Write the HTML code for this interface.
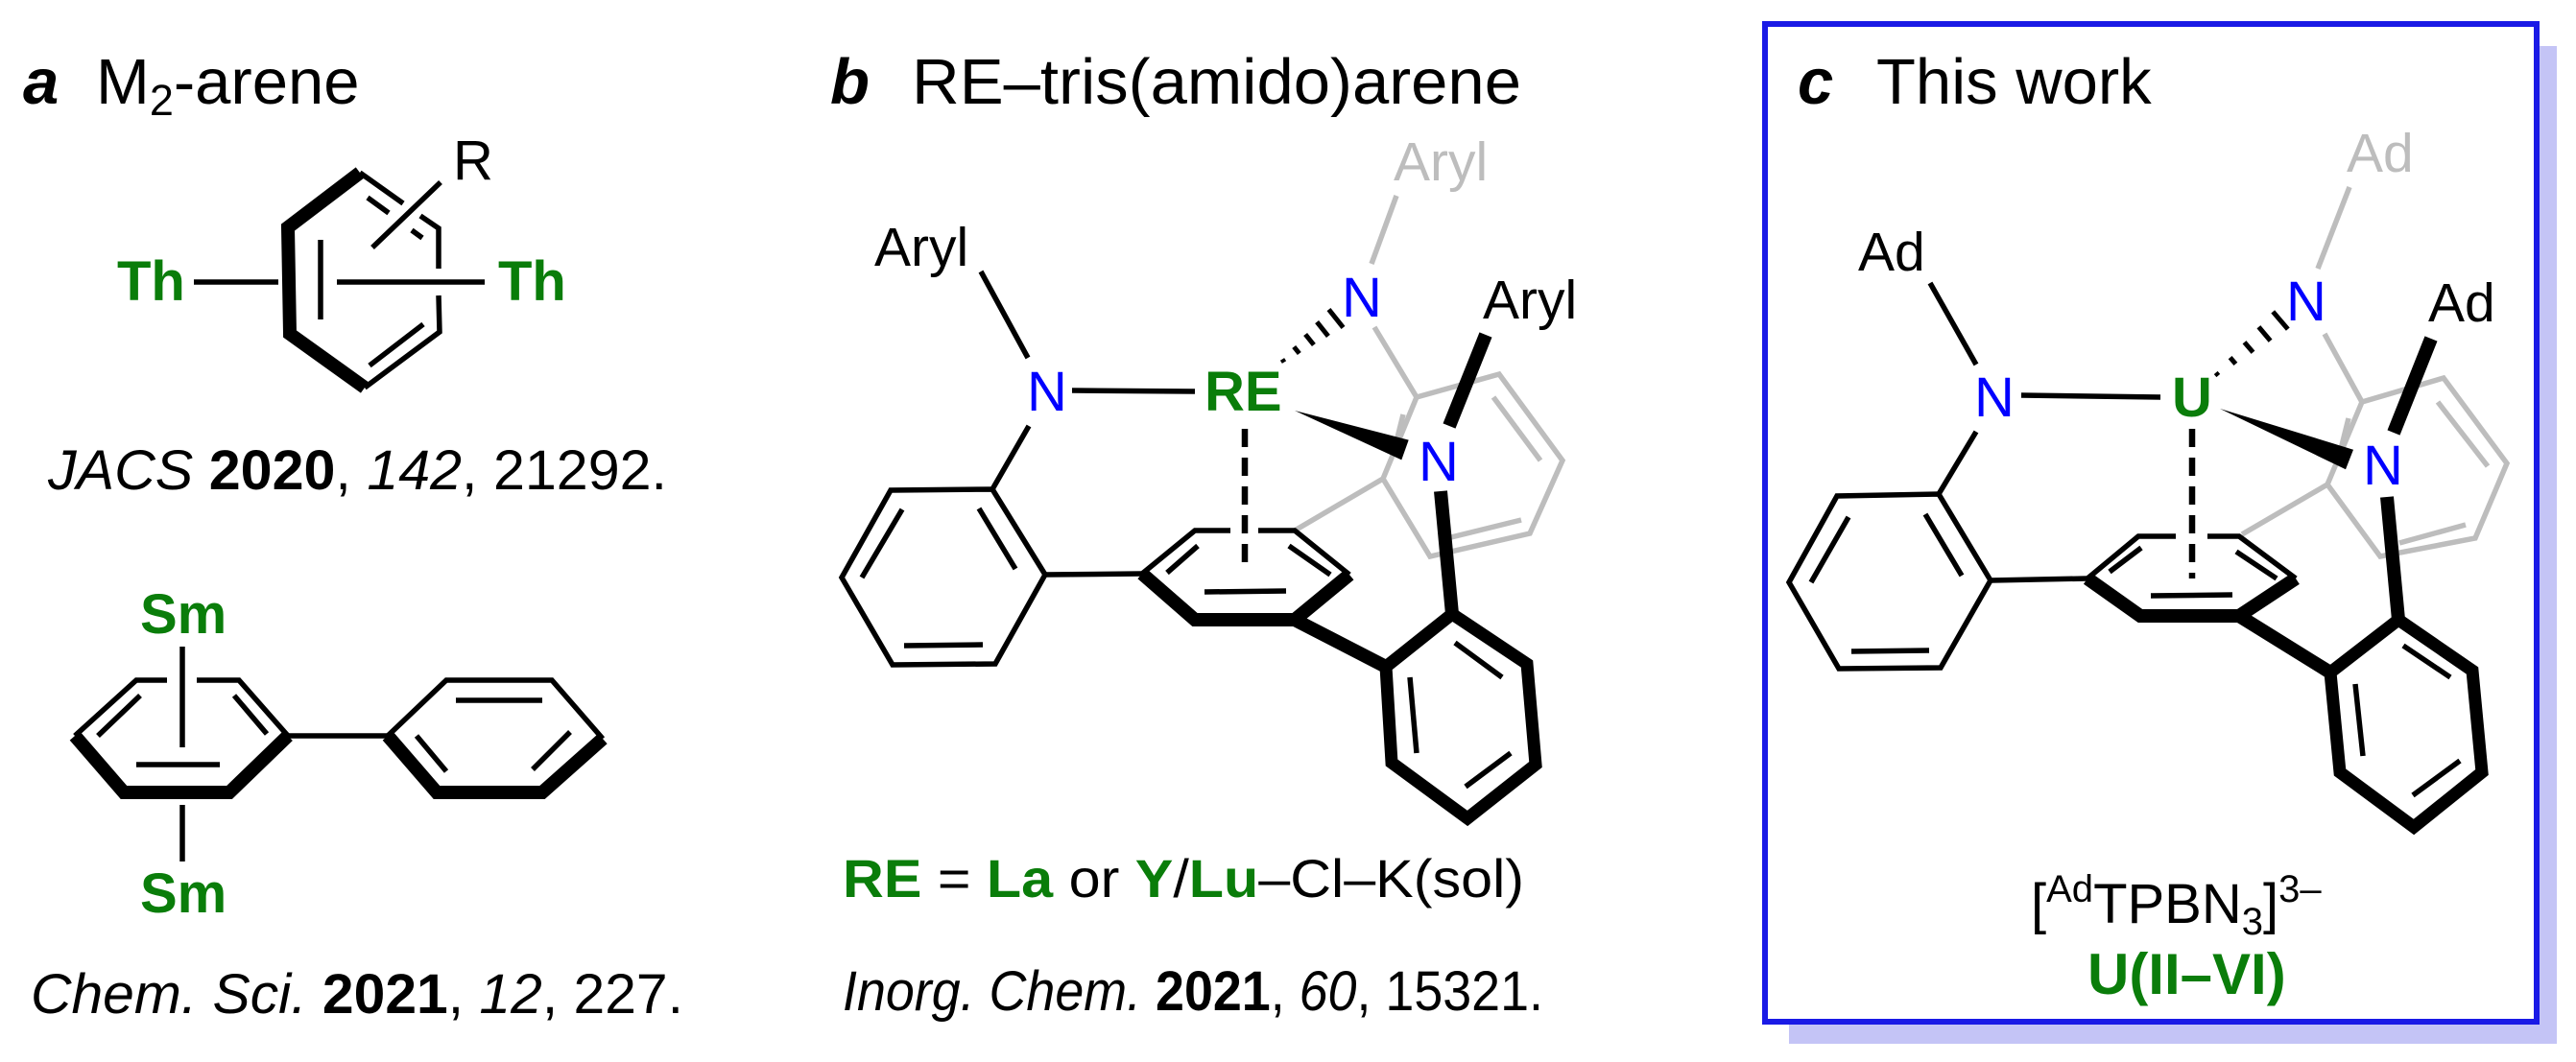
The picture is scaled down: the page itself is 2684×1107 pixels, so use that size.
<!DOCTYPE html>
<html><head><meta charset="utf-8"><style>
html,body{margin:0;padding:0;background:#fff;}
svg{display:block;}
text{font-family:"Liberation Sans",Arial,sans-serif;}
.k{stroke:#000;fill:none;stroke-width:5.5;stroke-linecap:butt;}
.bd{stroke:#000;fill:none;stroke-width:14;stroke-linejoin:miter;stroke-linecap:butt;}
.g{stroke:#bdbdbd;fill:none;stroke-width:5.5;}
.gr{fill:#0a7d0a;font-weight:bold;}
.nb{fill:#0000ff;stroke:#fff;stroke-width:8;paint-order:stroke;}
</style></head><body>
<svg width="2684" height="1107" viewBox="0 0 2684 1107" xmlns="http://www.w3.org/2000/svg">
<!-- ============ Panel a ============ -->
<text x="24" y="108" font-size="67"><tspan font-weight="bold" font-style="italic">a</tspan><tspan x="100">M</tspan><tspan font-size="45" dy="12">2</tspan><tspan dy="-12">-arene</tspan></text>
<!-- Th arene -->
<polyline class="bd" points="375,180 300,237 302,348 380,404"/>
<polyline class="k" points="380,404 458,346 457,308"/>
<polyline class="k" points="457,280 457,238 438,225"/>
<line class="k" x1="420" y1="212" x2="375" y2="180"/>
<line class="k" x1="334" y1="250" x2="334" y2="333"/>
<line class="k" x1="385" y1="381" x2="441" y2="338"/>
<line class="k" x1="383" y1="206" x2="405" y2="222"/>
<line class="k" x1="429" y1="240" x2="440" y2="248"/>
<line class="k" x1="388" y1="258" x2="459" y2="190"/>
<text x="472" y="187" font-size="58">R</text>
<line class="k" x1="202" y1="294" x2="290" y2="294"/>
<line class="k" x1="351" y1="294" x2="505" y2="294"/>
<text x="122" y="313" font-size="58" class="gr">Th</text>
<text x="519" y="313" font-size="58" class="gr">Th</text>
<text x="50" y="510" font-size="58" textLength="645" lengthAdjust="spacingAndGlyphs"><tspan font-style="italic">JACS</tspan> <tspan font-weight="bold">2020</tspan>, <tspan font-style="italic">142</tspan>, 21292.</text>
<!-- Sm biphenyl -->
<text x="146" y="660" font-size="58" class="gr">Sm</text>
<line class="k" x1="190" y1="674" x2="190" y2="779"/>
<polyline class="k" points="174,709 142,709 78,767"/>
<polyline class="k" points="205,709 249,709 300,767"/>
<polyline class="bd" points="78,767 129,826 239,826 300,767"/>
<line class="k" x1="102" y1="767" x2="146" y2="725"/>
<line class="k" x1="244" y1="725" x2="278" y2="765"/>
<line class="k" x1="142" y1="797" x2="229" y2="797"/>
<line class="k" x1="300" y1="767" x2="404" y2="767"/>
<polyline class="k" points="404,767 465,709 575,709 628,770"/>
<polyline class="bd" points="404,767 455,826 565,826 628,770"/>
<line class="k" x1="475" y1="730" x2="565" y2="730"/>
<line class="k" x1="434" y1="767" x2="465" y2="804"/>
<line class="k" x1="555" y1="802" x2="594" y2="763"/>
<line class="k" x1="190" y1="839" x2="190" y2="898"/>
<text x="146" y="951" font-size="58" class="gr">Sm</text>
<text x="32" y="1056" font-size="58" textLength="680" lengthAdjust="spacingAndGlyphs"><tspan font-style="italic">Chem. Sci.</tspan> <tspan font-weight="bold">2021</tspan>, <tspan font-style="italic">12</tspan>, 227.</text>

<!-- ============ Panel b ============ -->
<text x="865" y="108" font-size="67" font-weight="bold" font-style="italic">b</text>
<text x="950" y="108" font-size="67" textLength="635" lengthAdjust="spacingAndGlyphs">RE–tris(amido)arene</text>
<!-- gray back arm -->
<line class="g" x1="1455" y1="204" x2="1429" y2="275"/>
<line class="g" x1="1432" y1="341" x2="1476" y2="414"/>
<polyline class="g" points="1476,414 1562,390 1628,480 1594,556 1490,580 1441,499 1476,414"/>
<line class="g" x1="1556" y1="414" x2="1605" y2="480"/>
<line class="g" x1="1585" y1="542" x2="1512" y2="560"/>
<line class="g" x1="1462" y1="432" x2="1453" y2="468"/>
<line class="g" x1="1441" y1="499" x2="1349" y2="553"/>
<text x="1452" y="188" font-size="57" fill="#bdbdbd">Aryl</text>
<!-- left arm -->
<text x="911" y="277" font-size="57">Aryl</text>
<line class="k" x1="1022" y1="283" x2="1071" y2="373"/>
<line class="k" x1="1117" y1="407" x2="1245" y2="408"/>
<line class="k" x1="1072" y1="444" x2="1034" y2="510"/>
<polygon points="1034,510 1089,599 1037,692 930,693 877,602 928,511" fill="none" stroke="#000" stroke-width="5.5"/>
<line class="k" x1="1020" y1="530" x2="1058" y2="593"/>
<line class="k" x1="942" y1="673" x2="1024" y2="672"/>
<line class="k" x1="898" y1="602" x2="940" y2="531"/>
<line class="k" x1="1089" y1="599" x2="1190" y2="598"/>
<!-- central ring -->
<polyline class="k" points="1190,598 1245,553 1282,553"/>
<polyline class="k" points="1311,553 1349,553 1406,599"/>
<polyline class="bd" points="1190,598 1245,646 1349,646 1406,599"/>
<line class="k" x1="1216" y1="597" x2="1248" y2="569"/>
<line class="k" x1="1343" y1="569" x2="1386" y2="599"/>
<line class="k" x1="1255" y1="617" x2="1340" y2="616"/>
<line x1="1297" y1="447" x2="1297" y2="597" stroke="#000" stroke-width="6.5" stroke-dasharray="19,11"/>
<!-- hashed bond -->
<g stroke="#000" stroke-width="5">
<line x1="1336" y1="374.4" x2="1338" y2="377.6"/>
<line x1="1348.2" y1="361.5" x2="1353.8" y2="368.5"/>
<line x1="1360.1" y1="348.5" x2="1368.9" y2="359.5"/>
<line x1="1372.1" y1="335.6" x2="1383.9" y2="350.4"/>
<line x1="1384.5" y1="322.6" x2="1399.5" y2="341.4"/>
</g>
<polygon points="1349,428 1467.7,458.6 1460.3,479.4" fill="#000"/>
<line class="bd" x1="1548" y1="349" x2="1510" y2="444" stroke-width="13"/>
<line class="bd" x1="1501" y1="512" x2="1513" y2="640" stroke-width="13"/>
<line class="bd" x1="1349" y1="646" x2="1444" y2="695" stroke-width="13"/>
<polygon points="1513,640 1591,692 1600,797 1529,853 1450,795 1444,695" fill="none" stroke="#000" stroke-width="13" stroke-linejoin="miter"/>
<line class="k" x1="1516" y1="670" x2="1565" y2="706"/>
<line class="k" x1="1469" y1="706" x2="1476" y2="785"/>
<line class="k" x1="1527" y1="820" x2="1574" y2="785"/>
<text x="1398" y="330" font-size="58" class="nb">N</text>
<text x="1070" y="428" font-size="58" class="nb">N</text>
<text x="1478" y="501" font-size="58" class="nb">N</text>
<text x="1255" y="428" font-size="58" class="gr">RE</text>
<text x="1545" y="332" font-size="57">Aryl</text>
<text x="878" y="935" font-size="56" textLength="710" lengthAdjust="spacingAndGlyphs"><tspan class="gr">RE</tspan> = <tspan class="gr">La</tspan> or <tspan class="gr">Y</tspan>/<tspan class="gr">Lu</tspan>–Cl–K(sol)</text>
<text x="878" y="1053" font-size="58" textLength="730" lengthAdjust="spacingAndGlyphs"><tspan font-style="italic">Inorg. Chem.</tspan> <tspan font-weight="bold">2021</tspan>, <tspan font-style="italic">60</tspan>, 15321.</text>

<!-- ============ Panel c ============ -->
<rect x="1864" y="48" width="800" height="1040" fill="#c4c4f6"/>
<rect x="1839" y="25" width="804" height="1040" fill="#fff" stroke="#1a1ae6" stroke-width="6"/>
<text x="1873" y="108" font-size="67" font-weight="bold" font-style="italic">c</text>
<text x="1955" y="108" font-size="67">This work</text>
<!-- gray arm -->
<line class="g" x1="2448" y1="195" x2="2415" y2="280"/>
<line class="g" x1="2422" y1="348" x2="2461" y2="419"/>
<polyline class="g" points="2461,419 2546,394 2612,483 2579,561 2480,580 2425,505 2461,419"/>
<line class="g" x1="2540" y1="419" x2="2592" y2="486"/>
<line class="g" x1="2569" y1="547" x2="2500" y2="566"/>
<line class="g" x1="2447" y1="436" x2="2438" y2="472"/>
<line class="g" x1="2425" y1="505" x2="2336" y2="557"/>
<text x="2445" y="179" font-size="57" fill="#bdbdbd">Ad</text>
<!-- left arm -->
<text x="1936" y="282" font-size="57">Ad</text>
<line class="k" x1="2011" y1="295" x2="2059" y2="380"/>
<line class="k" x1="2106" y1="412" x2="2251" y2="414"/>
<line class="k" x1="2059" y1="450" x2="2020" y2="515"/>
<polygon points="2020,515 2074,605 2022,696 1916,697 1864,607 1914,517" fill="none" stroke="#000" stroke-width="5.5"/>
<line class="k" x1="2006" y1="536" x2="2044" y2="600"/>
<line class="k" x1="1929" y1="679" x2="2010" y2="678"/>
<line class="k" x1="1887" y1="607" x2="1926" y2="539"/>
<line class="k" x1="2074" y1="605" x2="2175" y2="603"/>
<!-- central ring -->
<polyline class="k" points="2175,603 2228,559 2267,559"/>
<polyline class="k" points="2300,559 2333,559 2392,603"/>
<polyline class="bd" points="2175,603 2230,642 2333,642 2392,603"/>
<line class="k" x1="2198" y1="596" x2="2231" y2="571"/>
<line class="k" x1="2330" y1="575" x2="2372" y2="603"/>
<line class="k" x1="2241" y1="621" x2="2326" y2="620"/>
<line x1="2284" y1="447" x2="2284" y2="603" stroke="#000" stroke-width="6.5" stroke-dasharray="19,11"/>
<g stroke="#000" stroke-width="5">
<line x1="2308.7" y1="388.5" x2="2311.3" y2="391.5"/>
<line x1="2323.6" y1="372.6" x2="2329.4" y2="379.4"/>
<line x1="2338.5" y1="356.7" x2="2347.5" y2="367.3"/>
<line x1="2353.4" y1="340.8" x2="2365.6" y2="355.2"/>
<line x1="2368.2" y1="324.9" x2="2383.8" y2="343.1"/>
</g>
<polygon points="2313,426 2452,468.7 2444,489.3" fill="#000"/>
<line class="bd" x1="2533" y1="353" x2="2494" y2="451" stroke-width="13"/>
<line class="bd" x1="2487" y1="518" x2="2499" y2="646" stroke-width="13"/>
<line class="bd" x1="2333" y1="642" x2="2428" y2="701" stroke-width="13"/>
<polygon points="2499,646 2576,699 2586,805 2515,862 2438,805 2428,701" fill="none" stroke="#000" stroke-width="13" stroke-linejoin="miter"/>
<line class="k" x1="2504" y1="673" x2="2553" y2="706"/>
<line class="k" x1="2454" y1="713" x2="2462" y2="788"/>
<line class="k" x1="2514" y1="829" x2="2563" y2="793"/>
<text x="2382" y="334" font-size="58" class="nb">N</text>
<text x="2057" y="434" font-size="58" class="nb">N</text>
<text x="2462" y="505" font-size="58" class="nb">N</text>
<text x="2263" y="434" font-size="58" class="gr">U</text>
<text x="2530" y="335" font-size="57">Ad</text>
<text x="2116" y="962" font-size="58">[<tspan font-size="40" dy="-22">Ad</tspan><tspan dy="22">TPBN</tspan><tspan font-size="40" dy="12">3</tspan><tspan dy="-12">]</tspan><tspan font-size="40" dy="-22">3–</tspan></text>
<text x="2175" y="1036" font-size="60" class="gr">U(II–VI)</text>
</svg>
</body></html>
